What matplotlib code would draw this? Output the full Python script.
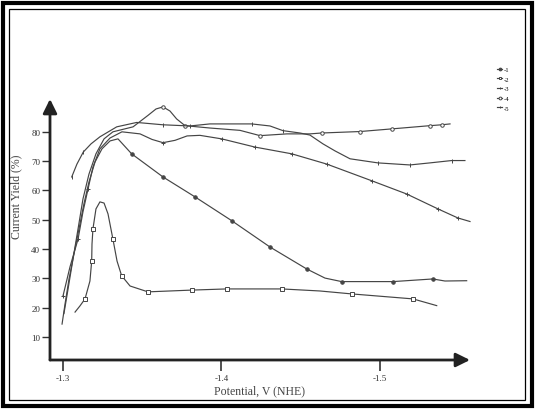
import matplotlib
matplotlib.use("Agg")
import matplotlib.pyplot as plt
from matplotlib.patches import Rectangle

plt.rcParams['font.family'] = ['Liberation Serif', 'DejaVu Serif']

# curve 1: filled circles, peak ~78 then falls to ~29
v1 = [-1.2994, -1.3013, -1.3038, -1.3069, -1.3101, -1.3132, -1.3164, -1.3202, -1.3246,
      -1.3297, -1.3347, -1.3433, -1.3631, -1.3833, -1.4064, -1.4306, -1.4538, -1.4653,
      -1.4758, -1.5082, -1.5333, -1.5410, -1.5547]
y1 = [14.4, 21.3, 29.8, 38.3, 46.9, 55.4, 62.9, 69.7, 74.2,
      76.9, 77.6, 72.5, 64.6, 57.8, 49.7, 40.7, 33.2, 30.1,
      28.9, 28.9, 29.8, 29.1, 29.2]
m1 = [11, 12, 13, 14, 15, 16, 18, 19, 20]

# curve 2: open squares, peak ~56 then flat ~25
v2 = [-1.3076, -1.3107, -1.3139, -1.3170, -1.3181, -1.3183, -1.3189, -1.3208, -1.3233,
      -1.3259, -1.3284, -1.3315, -1.3341, -1.3370, -1.3423, -1.3536, -1.3812, -1.4033,
      -1.4380, -1.4621, -1.4821, -1.5208, -1.5358]
y2 = [18.5, 20.6, 23.0, 29.1, 35.9, 41.7, 46.9, 53.7, 56.1,
      55.7, 52.0, 43.4, 35.9, 30.9, 27.4, 25.4, 26.0, 26.4,
      26.4, 25.7, 24.7, 23.0, 20.7]
m2 = [2, 4, 6, 11, 13, 15, 16, 17, 18, 20, 21]

# curve 3: dip near -1.36, then declines to ~49
v3 = [-1.3000, -1.3044, -1.3095, -1.3126, -1.3158, -1.3189, -1.3233, -1.3297, -1.3372,
      -1.3486, -1.3562, -1.3631, -1.3707, -1.3783, -1.3864, -1.4001, -1.4211, -1.4443,
      -1.4664, -1.4948, -1.5168, -1.5366, -1.5492, -1.5568]
y3 = [24.0, 33.9, 43.4, 52.7, 60.5, 68.0, 74.2, 77.9, 80.0,
      79.3, 77.4, 76.3, 77.1, 78.6, 78.8, 77.6, 74.8, 72.5,
      69.0, 63.3, 58.8, 53.7, 50.6, 49.4]
m3 = [0, 2, 4, 11, 15, 16, 17, 18, 19, 20, 21, 22]

# curve 4: bump ~89, ends ~83
v4 = [-1.3006, -1.3032, -1.3063, -1.3095, -1.3126, -1.3164, -1.3208, -1.3259, -1.3315,
      -1.3442, -1.3536, -1.3587, -1.3631, -1.3675, -1.3717, -1.3770, -1.3927, -1.4117,
      -1.4243, -1.4413, -1.4558, -1.4632, -1.4874, -1.5074, -1.5315, -1.5389, -1.5442]
y4 = [18.0, 26.4, 36.6, 46.9, 57.1, 65.6, 72.5, 77.6, 80.0,
      81.7, 85.6, 87.8, 88.5, 87.1, 84.4, 82.1, 81.3, 80.5,
      78.7, 79.3, 79.3, 79.6, 80.1, 81.0, 82.1, 82.4, 82.7]
m4 = [12, 15, 18, 21, 22, 23, 24, 25]

# curve 5: starts ~65, flat ~82, ends ~70
v5 = [-1.3055, -1.3088, -1.3128, -1.3177, -1.3233, -1.3339, -1.3465, -1.3631, -1.3801,
      -1.3927, -1.4190, -1.4306, -1.4388, -1.4495, -1.4558, -1.4640, -1.4716, -1.4811,
      -1.4987, -1.5189, -1.5315, -1.5452, -1.5536]
y5 = [64.6, 69.0, 73.1, 75.9, 78.3, 81.7, 83.2, 82.4, 82.0,
      82.7, 82.7, 82.0, 80.4, 79.6, 78.9, 75.9, 73.5, 70.8,
      69.4, 68.7, 69.4, 70.2, 70.2]
m5 = [0, 2, 7, 8, 10, 12, 18, 19, 21]

labels = ['-1', '-2', '-3', '-4', '-5']
yticks = [10, 20, 30, 40, 50, 60, 70, 80]
xticks = [-1.3, -1.4, -1.5]

fig = plt.figure(figsize=(5.36, 4.10), dpi=100)
ax = fig.add_axes([50/536, 49/410, 420/536, 261/410])
ax.set_xlim(-1.2918, -1.5568)
ax.set_ylim(2.15, 91.2)

lc = '#454545'
series = [(v1, y1, m1, 'o', lc), (v2, y2, m2, 's', 'white'), (v3, y3, m3, '+', lc),
          (v4, y4, m4, 'o', 'white'), (v5, y5, m5, '|', lc)]
for (v, y, m, mk, fc), lab in zip(series, labels):
    ax.plot(v, y, color=lc, lw=0.85, marker=mk, markevery=m, ms=2.5,
            mfc=fc, mec=lc, mew=0.7, label=lab, clip_on=False)

for s in ax.spines.values():
    s.set_visible(False)

ax.set_yticks(yticks)
ax.set_yticklabels([str(t) for t in yticks])
ax.set_xticks(xticks)
ax.set_xticklabels(['-1.3', '-1.4', '-1.5'])
ax.tick_params(axis='y', direction='out', length=6, width=1.0, labelsize=6.5, pad=1, colors='#333')
ax.tick_params(axis='x', direction='out', length=8, width=1.2, labelsize=6.5, pad=2, colors='#333')

arrow = dict(arrowstyle='-|>,head_length=0.85,head_width=0.42', lw=2.0, color='#222',
             shrinkA=0, shrinkB=0, mutation_scale=10)
ax.annotate('', xy=(0, 1.0), xytext=(0, 0), xycoords='axes fraction', arrowprops=arrow)
ax.annotate('', xy=(1.0, 0), xytext=(0, 0), xycoords='axes fraction', arrowprops=arrow)

ax.set_xlabel('Potential, V (NHE)', fontsize=8.5, color='#444', labelpad=2)
ax.set_ylabel('Current Yield (%)', fontsize=8.5, color='#444')
ax.yaxis.set_label_coords(-28/420, 0.63)

fig.legend(loc='upper left', bbox_to_anchor=(494/536, 1 - 64/410), fontsize=4.8,
           frameon=False, handlelength=0.7, handletextpad=0.2, labelspacing=0.6,
           borderpad=0, markerscale=0.8)

fig.add_artist(Rectangle((3/536, 3/410), 529/536, 403/410, transform=fig.transFigure,
                         fill=False, lw=3, ec='black'))
fig.add_artist(Rectangle((9/536, 9/410), 516/536, 391/410, transform=fig.transFigure,
                         fill=False, lw=0.9, ec='black'))

fig.savefig('out.png', dpi=100)
